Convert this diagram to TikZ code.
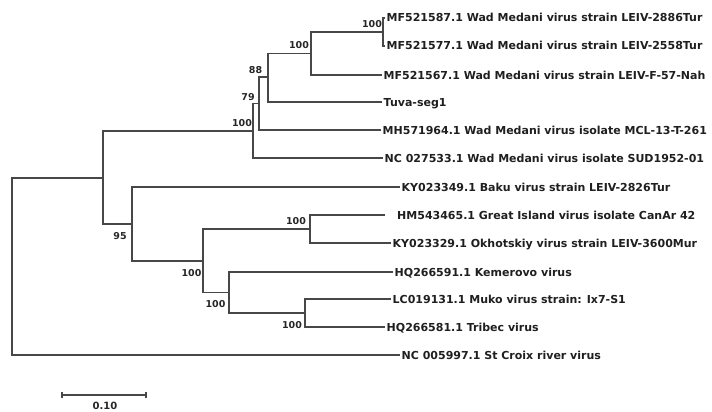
\documentclass[tikz,border=0pt]{standalone}
\usepackage{fontspec}
\setmainfont{DejaVu Sans}
\begin{document}
\begin{tikzpicture}[x=1pt,y=-1pt,
  branch/.style={draw=black!72,line width=1.1pt},
  leaf/.style={anchor=west,inner xsep=1.5pt,inner ysep=0pt,text height=9pt,text depth=1pt,
    font=\fontsize{11}{13}\selectfont\bfseries,text=black!88},
  boot/.style={inner sep=0pt,font=\fontsize{9.5}{11}\selectfont\bfseries,text=black!85}]
\useasboundingbox (0,0) rectangle (712,412);
% internal nodes
\coordinate (A) at (12,266.5);
\coordinate (B) at (103,178);
\coordinate (C) at (253,131);
\coordinate (D) at (259,103.5);
\coordinate (E) at (268,77);
\coordinate (G) at (311,53.5);
\coordinate (H) at (383,32);
\coordinate (F) at (132,224);
\coordinate (I) at (203,261);
\coordinate (J) at (310,229);
\coordinate (K) at (229,292.5);
\coordinate (M) at (305,313);
% leaves
\node[leaf] (l1) at (385,18) {MF521587.1 Wad Medani virus strain LEIV-2886Tur};
\node[leaf] (l2) at (385,46) {MF521577.1 Wad Medani virus strain LEIV-2558Tur};
\node[leaf] (l3) at (382,75) {MF521567.1 Wad Medani virus strain LEIV-F-57-Nah};
\node[leaf] (l4) at (382,102) {Tuva-seg1};
\node[leaf] (l5) at (381,130) {MH571964.1 Wad Medani virus isolate MCL-13-T-261};
\node[leaf] (l6) at (383,158) {NC 027533.1 Wad Medani virus isolate SUD1952-01};
\node[leaf] (l7) at (400,187) {KY023349.1 Baku virus strain LEIV-2826Tur};
\node[leaf,inner xsep=0pt] (l8) at (385,215) {\hspace{12pt}HM543465.1 Great Island virus isolate CanAr 42};
\node[leaf] (l9) at (391,243) {KY023329.1 Okhotskiy virus strain LEIV-3600Mur};
\node[leaf] (l10) at (393,272) {HQ266591.1 Kemerovo virus};
\node[leaf] (l11) at (391,299) {LC019131.1 Muko virus strain: Ix7-S1};
\node[leaf] (l12) at (385,327) {HQ266581.1 Tribec virus};
\node[leaf] (l13) at (400,355) {NC 005997.1 St Croix river virus};
% branches
\path[branch] (A) |- (B);
\path[branch] (A) |- (l13.west);
\path[branch] (B) |- (C);
\path[branch] (B) |- (F);
\path[branch] (C) |- (D);
\path[branch] (C) |- (l6.west);
\path[branch] (D) |- (E);
\path[branch] (D) |- (l5.west);
\path[branch] (E) |- (G);
\path[branch] (E) |- (l4.west);
\path[branch] (G) |- (H);
\path[branch] (G) |- (l3.west);
\path[branch] (H) |- (l1.west);
\path[branch] (H) |- (l2.west);
\path[branch] (F) |- (l7.west);
\path[branch] (F) |- (I);
\path[branch] (I) |- (J);
\path[branch] (I) |- (K);
\path[branch] (J) |- (l8.west);
\path[branch] (J) |- (l9.west);
\path[branch] (K) |- (l10.west);
\path[branch] (K) |- (M);
\path[branch] (M) |- (l11.west);
\path[branch] (M) |- (l12.west);
% bootstrap values
\node[boot] (b1) at (372,24) {100};
\node[boot] (b2) at (299,45) {100};
\node[boot] (b3) at (255.5,70) {88};
\node[boot] (b4) at (248,97) {79};
\node[boot] (b5) at (242,123) {100};
\node[boot] (b6) at (120,236) {95};
\node[boot] (b7) at (296,221) {100};
\node[boot] (b8) at (191.5,273) {100};
\node[boot] (b9) at (215.5,304) {100};
\node[boot] (b10) at (292,325) {100};
% scale bar
\coordinate (s1) at (62,395);
\coordinate (s2) at (146,395);
\path[branch] (s1) -- (s2);
\path[branch] ([yshift=-3pt]s1) -- ([yshift=3pt]s1);
\path[branch] ([yshift=-3pt]s2) -- ([yshift=3pt]s2);
\node[boot,font=\fontsize{10}{12}\selectfont\bfseries] (sl) at (105,406) {0.10};
\end{tikzpicture}
\end{document}
